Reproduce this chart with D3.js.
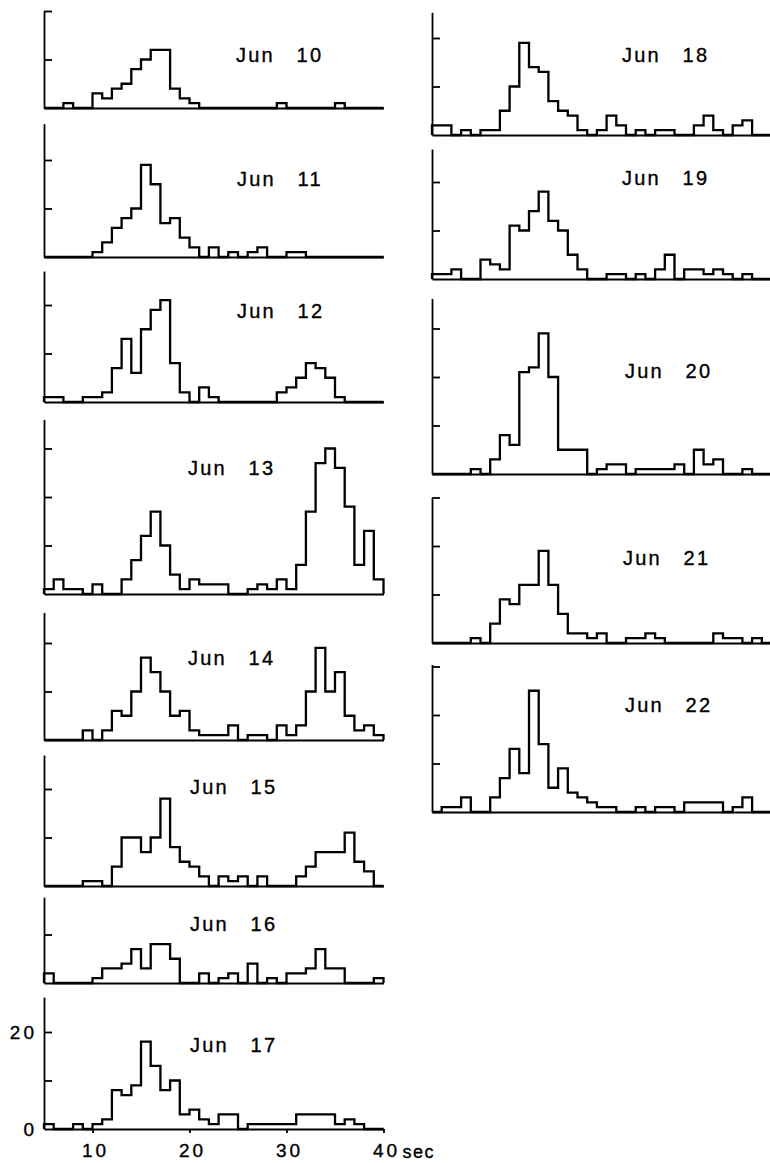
<!DOCTYPE html>
<html>
<head>
<meta charset="utf-8">
<script src="https://cdn.jsdelivr.net/npm/d3@7"></script>
<style>
  body { margin: 0; background: #fff; }
  svg { display: block; }
  .hist { fill: none; stroke: #000; stroke-width: 2.3; stroke-linejoin: miter; }
  .axis path, .axis line { stroke: #000; stroke-width: 1.8; }
  text { font-family: "Liberation Sans", Arial, sans-serif; fill: #000; stroke: #000; stroke-width: 0.35px; }
</style>
</head>
<body>
<svg id="chart" width="770" height="1163"></svg>
<script>
// start of each 1-second bin, 5..39 sec
const binStarts = [5, 6, 7, 8, 9, 10, 11, 12, 13, 14, 15, 16, 17, 18, 19, 20, 21, 22,
  23, 24, 25, 26, 27, 28, 29, 30, 31, 32, 33, 34, 35, 36, 37, 38, 39];

// counts per bin
const jun10 = [0,0,1,0,0,3,2,4,5,8,10,12,12,4,2,1,0,0,0,0,0,0,0,0,1,0,0,0,0,0,1,0,0,0,0];
const jun11 = [0,0,0,0,0,1,3,6,8,10,19,15,7,8,4,2,0,2,0,1,0,1,2,0,0,1,1,0,0,0,0,0,0,0,0];
const jun12 = [1,1,0,0,1,1,2,7,13,6,15,19,21,8,2,0,3,1,0,0,0,0,0,0,2,3,5,8,7,5,1,0,0,0,0];
const jun13 = [1,3,1,1,0,2,0,0,3,7,12,17,10,4,1,3,2,2,2,0,0,1,2,1,3,1,6,17,27,30,26,18,6,13,3];
const jun14 = [0,0,0,0,2,0,2,6,5,10,17,14,10,5,6,2,1,1,1,3,0,1,1,0,3,1,3,10,19,10,14,5,2,3,1];
const jun15 = [0,0,0,0,1,1,0,4,10,10,7,10,18,8,5,4,2,0,2,1,2,0,2,0,0,0,2,4,7,7,7,11,5,3,0];
const jun16 = [2,0,0,0,0,1,3,3,4,7,3,8,8,5,0,0,2,0,1,2,0,4,0,1,0,2,2,3,7,3,3,0,0,0,1];
const jun17 = [1,0,0,1,0,1,2,8,7,9,18,13,8,10,3,4,2,1,3,3,0,1,1,1,1,1,3,3,3,3,1,2,1,0,0];
const jun18 = [2,2,0,1,0,1,1,5,10,19,14,13,7,5,4,1,0,1,4,2,0,1,0,1,1,0,0,2,4,1,0,2,3,0,0];
const jun19 = [1,1,2,0,0,4,3,2,11,10,14,18,12,10,5,2,0,0,1,1,0,1,0,2,5,0,2,2,1,2,1,0,1,0,0];
const jun20 = [0,0,0,0,1,0,3,8,6,21,22,29,20,5,5,5,0,1,2,2,0,1,1,1,1,2,0,5,2,3,0,0,1,0,0];
const jun21 = [0,0,0,0,1,0,4,9,8,12,12,19,12,6,2,2,1,2,0,0,1,1,2,1,0,0,0,0,0,2,1,1,0,1,0];
const jun22 = [0,1,1,3,0,0,3,7,13,8,25,14,5,9,4,3,2,1,1,0,0,1,0,1,1,0,2,2,2,2,0,1,3,0,0];

const xTicks = [10, 20, 30, 40];

// panel placement (column, baseline y in px, top of y axis in counts, label position)
const panels = [
  { label: "Jun 10", data: jun10, col: 0, base: 108,  top: 20,   lx: 236, ly: 62 },
  { label: "Jun 11", data: jun11, col: 0, base: 257,  top: 27.5, lx: 237, ly: 186 },
  { label: "Jun 12", data: jun12, col: 0, base: 402,  top: 27,   lx: 237, ly: 318 },
  { label: "Jun 13", data: jun13, col: 0, base: 594,  top: 36,   lx: 188, ly: 475 },
  { label: "Jun 14", data: jun14, col: 0, base: 740,  top: 26.3, lx: 188, ly: 665 },
  { label: "Jun 15", data: jun15, col: 0, base: 886,  top: 27,   lx: 190, ly: 794 },
  { label: "Jun 16", data: jun16, col: 0, base: 983,  top: 17.7, lx: 190, ly: 931 },
  { label: "Jun 17", data: jun17, col: 0, base: 1129, top: 27.2, lx: 190, ly: 1052 },
  { label: "Jun 18", data: jun18, col: 1, base: 135,  top: 25.3, lx: 622, ly: 62 },
  { label: "Jun 19", data: jun19, col: 1, base: 279,  top: 26.8, lx: 622, ly: 185 },
  { label: "Jun 20", data: jun20, col: 1, base: 474,  top: 36.2, lx: 625, ly: 378 },
  { label: "Jun 21", data: jun21, col: 1, base: 643,  top: 30,   lx: 623, ly: 565 },
  { label: "Jun 22", data: jun22, col: 1, base: 812,  top: 30.4, lx: 625, ly: 712 }
];

const colRange = [[44, 383.5], [432, 771.5]];
const pxPerCount = 4.85;

const svg = d3.select("#chart");

panels.forEach(function (p, idx) {
  const x = d3.scaleLinear().domain([5, 40]).range(colRange[p.col]);
  const y = d3.scaleLinear().domain([0, p.top]).range([p.base, p.base - p.top * pxPerCount]);
  const g = svg.append("g");

  // baseline
  g.append("g")
    .attr("class", "axis")
    .attr("transform", "translate(0," + p.base + ")")
    .call(d3.axisBottom(x).tickValues(idx === 7 ? xTicks : []).tickSize(idx === 7 ? 4 : 0)
      .tickSizeOuter(0).tickFormat(""));

  // y axis with inward ticks every 10 counts
  const yTicks = [10, 20, 30].filter(function (t) { return t <= p.top + 0.5; });
  g.append("g")
    .attr("class", "axis")
    .attr("transform", "translate(" + x(5) + ",0)")
    .call(d3.axisRight(y).tickValues(yTicks).tickSize(8).tickSizeOuter(0).tickFormat(""));

  // histogram outline
  const pts = [[5, 0]].concat(binStarts.map(function (s, i) { return [s, p.data[i]]; }), [[40, 0]]);
  const line = d3.line()
    .x(function (d) { return x(d[0]); })
    .y(function (d) { return y(d[1]); })
    .curve(d3.curveStepAfter);
  g.append("path").attr("class", "hist").attr("d", line(pts));

  g.append("text")
    .attr("x", p.lx)
    .attr("y", p.ly)
    .style("font-size", "20px")
    .style("letter-spacing", "2.2px")
    .style("word-spacing", "14px")
    .text(p.label);

  // numbers only on the bottom-left panel
  if (idx === 7) {
    [0, 20].forEach(function (v) {
      g.append("text")
        .attr("x", 37)
        .attr("y", y(v))
        .attr("dy", "0.36em")
        .attr("text-anchor", "end")
        .style("font-size", "19px")
        .style("letter-spacing", "3px")
        .text(v);
    });
    xTicks.forEach(function (v) {
      g.append("text")
        .attr("x", x(v) + 3)
        .attr("y", 1157)
        .attr("text-anchor", "middle")
        .style("font-size", "19px")
        .style("letter-spacing", "3px")
        .text(v);
    });
    g.append("text")
      .attr("x", x(40) + 19)
      .attr("y", 1158)
      .style("font-size", "18px")
      .style("letter-spacing", "1.5px")
      .text("sec");
  }
});
</script>
</body>
</html>
